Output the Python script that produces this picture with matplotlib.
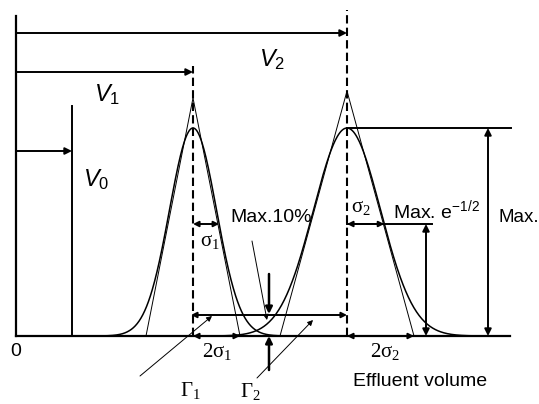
import numpy as np
import matplotlib.pyplot as plt

plt.rcParams['mathtext.fontset'] = 'custom'
plt.rcParams['mathtext.rm'] = 'Liberation Serif'
plt.rcParams['mathtext.it'] = 'Liberation Sans:italic'
plt.rcParams['mathtext.sf'] = 'Liberation Sans'

# volumes on the x scale, heights on the y scale
V0 = 56
V1 = 177
V2 = 331
sigma1 = 23.5
sigma2 = 33.5
peak_max = 208
apex1 = 238
apex2 = 245
level_e = 112
level_10 = 21
x_end = 494
axis_top = 320

def gauss(x, v, s):
    return peak_max * np.exp(-(x - v) ** 2 / (2 * s ** 2))

def cross(v, s, level):
    return v + s * np.sqrt(-2 * np.log(level / peak_max))

def arrow(ax, tail, tip, style='-|>', lw=1.4, ms=10):
    ax.annotate('', xy=tip, xytext=tail,
                arrowprops=dict(arrowstyle=style, lw=lw, color='k',
                                shrinkA=0, shrinkB=0, mutation_scale=ms))

fig = plt.figure(figsize=(5.39, 4.04), dpi=100)
ax = fig.add_axes([0, 0, 1, 1])
ax.set_xlim(-16, 523)
ax.set_ylim(-68, 336)
ax.axis('off')

# frame
ax.plot([0, 0], [0, axis_top], color='k', lw=1.6)
ax.plot([0, x_end], [0, 0], color='k', lw=1.6)

# peaks with their tangent triangles
for v, s, apex in [(V1, sigma1, apex1), (V2, sigma2, apex2)]:
    x = np.linspace(v - 4 * s, v + 4 * s, 400)
    ax.plot(x, gauss(x, v, s), color='k', lw=1.1)
    ax.plot([v - 2 * s, v, v + 2 * s], [0, apex, 0], color='k', lw=0.7)

# retention lines
ax.plot([V0, V0], [0, 230], color='k', lw=1.4)
ax.plot([V1, V1], [0, 270], color='k', lw=1.5, ls=(0, (4, 2)))
ax.plot([V2, V2], [0, 326], color='k', lw=1.5, ls=(0, (4, 2)))

arrow(ax, (0, 303), (V2, 303))
arrow(ax, (0, 264), (V1, 264))
arrow(ax, (0, 185), (V0, 185))

# Max level
ax.plot([V2, x_end + 1], [peak_max, peak_max], color='k', lw=1.4)
arrow(ax, (472, 0), (472, peak_max), style='<|-|>')

# Max e^-1/2 level
ax.plot([V2, 416], [level_e, level_e], color='k', lw=1.4)
arrow(ax, (V2, level_e), (cross(V2, sigma2, level_e), level_e), style='<|-|>', ms=8)
arrow(ax, (410, 0), (410, level_e), style='<|-|>')
arrow(ax, (V1, level_e), (cross(V1, sigma1, level_e), level_e), style='<|-|>', ms=8)

# 10 % level
arrow(ax, (V1 - 2, level_10), (V2, level_10), style='<|-|>', ms=8)
arrow(ax, (253, 62), (253, level_10 + 1), lw=1.8)
arrow(ax, (253, -34), (253, 0), lw=1.8)

# widths at the base
arrow(ax, (V1, 0), (V1 + 2 * sigma1, 0), style='<|-|>', ms=8)
arrow(ax, (V2, 0), (V2 + 2 * sigma2, 0), style='<|-|>', ms=8)

# pointers
arrow(ax, (236, 95), (251, 16), lw=0.7, ms=8)
arrow(ax, (124, -40), (196, 20), lw=0.7, ms=8)
arrow(ax, (241, -42), (297, 16), lw=0.7, ms=8)

# labels
ax.text(256, 276, r'$V_\mathsf{2}$', fontsize=17, ha='center', va='center')
ax.text(91, 241, r'$V_\mathsf{1}$', fontsize=17, ha='center', va='center')
ax.text(80, 156, r'$V_\mathsf{0}$', fontsize=17, ha='center', va='center')

sans = dict(family='Liberation Sans', fontsize=14, color='k')
serif = dict(family='Liberation Serif', fontsize=15, color='k')
ax.text(0, -16, '0', ha='center', va='center', **sans)
ax.text(255, 118, 'Max.10%', ha='center', va='center', **sans)
ax.text(377, 126, r'Max. e$^\mathsf{-1/2}$', ha='left', va='center', **sans)
ax.text(483, 118, 'Max.', ha='left', va='center', family='Liberation Sans',
        fontsize=13.5, color='k')
ax.text(404, -45, 'Effluent volume', ha='center', va='center', **sans)

ax.text(194, 94, r'σ$_1$', ha='center', va='center', **serif)
ax.text(345, 128, r'σ$_2$', ha='center', va='center', **serif)
ax.text(201, -16, r'2σ$_1$', ha='center', va='center', **serif)
ax.text(369, -16, r'2σ$_2$', ha='center', va='center', **serif)
ax.text(174, -55, r'Γ$_1$', ha='center', va='center', **serif)
ax.text(234, -56, r'Γ$_2$', ha='center', va='center', **serif)

fig.savefig('out.png', dpi=100)
